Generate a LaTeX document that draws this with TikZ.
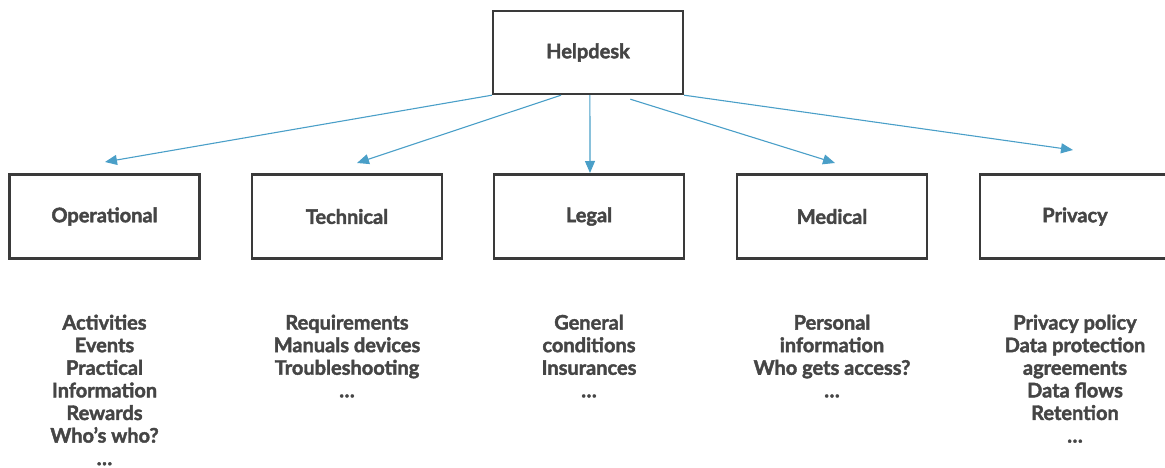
\documentclass[tikz,border=0pt]{standalone}
\usepackage{fontspec}
\newfontfamily\labelfont{Lato}[BoldFeatures={FakeBold=2}]
\usetikzlibrary{arrows.meta,calc}
\definecolor{inkgray}{HTML}{454545}
\definecolor{framegray}{HTML}{3A3A3A}
\definecolor{linkblue}{HTML}{4A9FC8}
\begin{document}
\begin{tikzpicture}[x=1pt,y=-1pt,
  box/.style={draw=framegray,line width=2.4pt,fill=white,minimum width=190pt,minimum height=84pt,
    inner sep=0pt,text=inkgray,font=\labelfont\bfseries\fontsize{20}{23}\selectfont},
  items/.style={anchor=north,align=center,inner sep=0pt,text=inkgray,
    font=\labelfont\bfseries\fontsize{20}{22.6}\selectfont},
  link/.style={draw=linkblue,line width=1.1pt,-{Triangle[length=12pt,width=10pt]}}]
\useasboundingbox (0,0) rectangle (1165,468);
\clip (0,0) rectangle (1165,468);

% top box
\node[box,minimum height=83pt] (help) at (588,52.5) {Helpdesk};

% category boxes
\node[box] (op)  at (104.5,216.5) {Operational};
\node[box] (tech) at (347,216.5) {Technical};
\node[box] (leg) at (589,216.5) {Legal};
\node[box] (med) at (832,216.5) {Medical};
\node[box] (priv) at (1075,216.5) {Privacy};

% topic lists under each category
\node[items] (opl) at (104.5,314.5) {Activities\\Events\\Practical\\Information\\Rewards\\Who’s who?\\…};
\node[items] (techl) at (347,314.5) {Requirements\\Manuals devices\\Troubleshooting\\…};
\node[items] (legl) at (589,314.5) {General\\conditions\\Insurances\\…};
\node[items] (medl) at (832,314.5) {Personal\\information\\Who gets access?\\…};
\node[items] (privl) at (1075,314.5) {Privacy policy\\Data protection\\agreements\\Data flows\\Retention\\…};

% arrow end points above the boxes
\coordinate (op-in) at (105,162);
\coordinate (tech-in) at (357,163);
\coordinate (leg-in) at (590,173);
\coordinate (med-in) at (835,163);
\coordinate (priv-in) at (1073,150);

% connectors
\draw[link] (help.south west) -- (op-in);
\draw[link] ($(help.south west)!0.36!(help.south east)$) -- (tech-in);
\draw[link] ($(help.south west)!0.51!(help.south east)$) -- (leg-in);
\draw[link] ($(help.south west)!0.72!(help.south east)$) ++(0,4) -- (med-in);
\draw[link] (help.south east) -- (priv-in);
\end{tikzpicture}
\end{document}
